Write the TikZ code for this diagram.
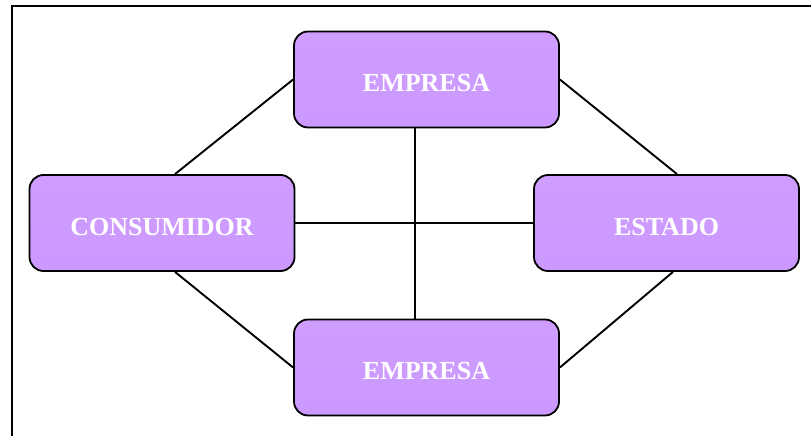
\documentclass[tikz,border=0pt]{standalone}
\usepackage{fontspec}
\setmainfont{Liberation Serif}
\newcommand{\actorlabel}[1]{\raisebox{-12pt}[0pt][0pt]{#1}}
\begin{document}
\begin{tikzpicture}[x=1pt,y=-1pt,
  actor/.style={draw=black, line width=1.8pt, rounded corners=14pt,
    top color=purpleTop, bottom color=purpleBottom,
    minimum width=265pt, minimum height=96pt, inner sep=0pt,
    text=white, font=\fontsize{26}{30}\selectfont\bfseries},
  link/.style={line width=1.9pt, draw=black}]
  \definecolor{purpleTop}{HTML}{CF9CFF}
  \definecolor{purpleBottom}{HTML}{CC99FF}
  \useasboundingbox (0,0) rectangle (811,436);
  % frame running off the page at right and bottom
  \draw[line width=2.4pt] (12,436) -- (12,6) -- (811,6);
  % the four actors
  \node[actor] (empA) at (426.5,79.5) {\actorlabel{EMPRESA}};
  \node[actor] (cons) at (162,223) {\actorlabel{CONSUMIDOR}};
  \node[actor] (est)  at (666.5,223) {\actorlabel{ESTADO}};
  \node[actor] (empB) at (426.5,367.5) {\actorlabel{EMPRESA}};
  % links between the actors
  \draw[link] (empA.west) -- ([xshift=13pt]cons.north);
  \draw[link] (empA.east) -- ([xshift=10.5pt]est.north);
  \draw[link] ([xshift=13pt]cons.south) -- (empB.west);
  \draw[link] ([xshift=6.5pt]est.south) -- (empB.east);
  \draw[link] (cons.east) -- (est.west);
  \draw[link] ([xshift=-11.5pt]empA.south) -- ([xshift=-11.5pt]empB.north);
\end{tikzpicture}
\end{document}
